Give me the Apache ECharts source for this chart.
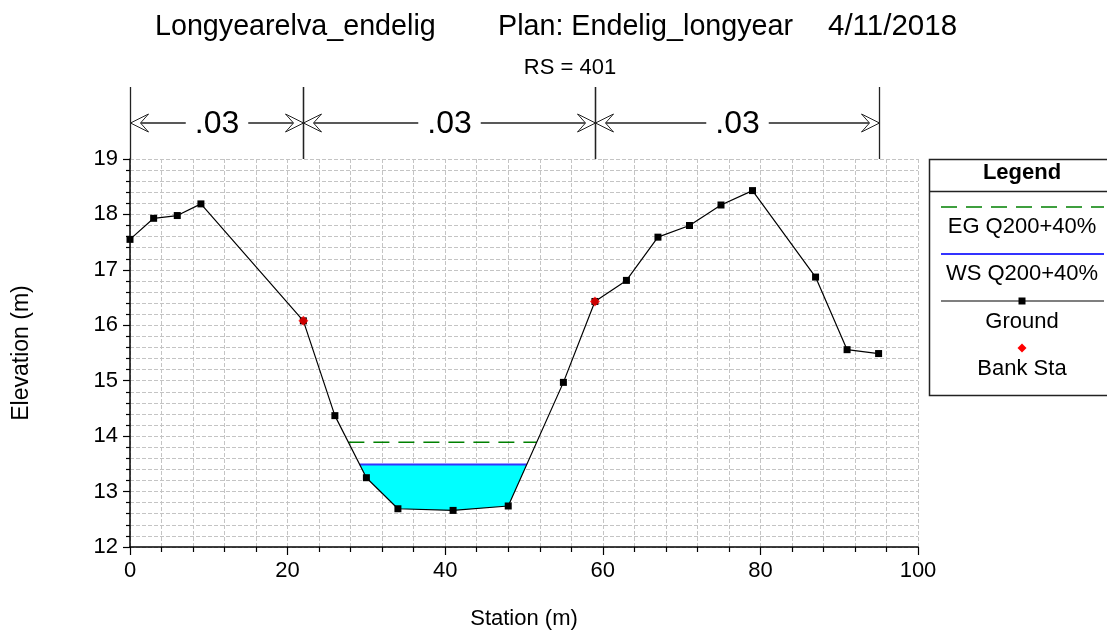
<!DOCTYPE html>
<html><head><meta charset="utf-8">
<script src="https://cdn.jsdelivr.net/npm/echarts@6/dist/echarts.min.js"></script>
<style>html,body{margin:0;padding:0;background:#fff}#c{width:1107px;height:630px}</style>
</head><body><div id="c"></div>
<script>
// ---- data ----
const groundStation = [0, 3, 6, 9, 22, 26, 30, 34, 41, 48, 55, 59, 63, 67, 71, 75, 79, 87, 91, 95];
const groundElev    = [17.55, 17.93, 17.98, 18.19, 16.08, 14.37, 13.25, 12.69, 12.66, 12.74, 14.97, 16.43, 16.81, 17.59, 17.80, 18.17, 18.43, 16.87, 15.56, 15.49];
const bankStations  = [22, 59];
const nBreaks       = [0, 22, 59, 95];
const nValues       = ['.03', '.03', '.03'];
const wsElev = 13.49;   // WS Q200+40%
const egElev = 13.89;   // EG Q200+40%
const xRange = [0, 100], xStep = 20;
const yRange = [12, 19], yStep = 1;
const titleParts = ['Longyearelva_endelig', 'Plan: Endelig_longyear', '4/11/2018'];
const subTitle = 'RS = 401';
const legendItems = ['EG Q200+40%', 'WS Q200+40%', 'Ground', 'Bank Sta'];

const FONT = "'Liberation Sans', Arial, sans-serif";
const ground = groundStation.map((s, i) => [s, groundElev[i]]);
const bank = bankStations.map(s => [s, groundElev[groundStation.indexOf(s)]]);

// where a horizontal water level meets the ground on each side of the thalweg
function crossings(level) {
  let m = 0;
  groundElev.forEach((e, i) => { if (e < groundElev[m]) m = i; });
  let l = m; while (l > 0 && groundElev[l - 1] < level) l--;
  let r = m; while (r < groundElev.length - 1 && groundElev[r + 1] < level) r++;
  const xl = groundStation[l - 1] + (groundStation[l] - groundStation[l - 1]) * (groundElev[l - 1] - level) / (groundElev[l - 1] - groundElev[l]);
  const xr = groundStation[r] + (groundStation[r + 1] - groundStation[r]) * (level - groundElev[r]) / (groundElev[r + 1] - groundElev[r]);
  return { xl, xr, l, r };
}
const ws = crossings(wsElev);
const eg = crossings(egElev);
const waterPoly = [[ws.xl, wsElev]].concat(ground.slice(ws.l, ws.r + 1)).concat([[ws.xr, wsElev]]);

const chart = echarts.init(document.getElementById('c'), null, { renderer: 'canvas' });

const gridDash = { color: '#c4c4c4', width: 1, type: [4, 2] };

const legendX = 929, legendTop = 159;
const lgCx = 1022;
const legendGraphics = [
  { type: 'rect', shape: { x: legendX + 0.5, y: legendTop + 0.5, width: 200, height: 236 }, style: { fill: '#fff', stroke: '#222', lineWidth: 1.5 } },
  { type: 'text', x: lgCx, y: 173, style: { text: 'Legend', font: "bold 22px " + FONT, fill: '#000', align: 'center', verticalAlign: 'middle' } },
  { type: 'line', shape: { x1: legendX, y1: 191.5, x2: 1107, y2: 191.5 }, style: { stroke: '#222', lineWidth: 1.5 } },
  { type: 'line', shape: { x1: 941, y1: 207, x2: 1104, y2: 207 }, style: { stroke: '#008000', lineWidth: 1.5, lineDash: [16, 9] } },
  { type: 'text', x: lgCx, y: 227, style: { text: legendItems[0], font: "22px " + FONT, fill: '#000', align: 'center', verticalAlign: 'middle' } },
  { type: 'line', shape: { x1: 941, y1: 254, x2: 1104, y2: 254 }, style: { stroke: '#3333ff', lineWidth: 2 } },
  { type: 'text', x: lgCx, y: 274, style: { text: legendItems[1], font: "22px " + FONT, fill: '#000', align: 'center', verticalAlign: 'middle' } },
  { type: 'line', shape: { x1: 941, y1: 301, x2: 1104, y2: 301 }, style: { stroke: '#000', lineWidth: 1.2 } },
  { type: 'rect', shape: { x: lgCx - 3.5, y: 297.5, width: 7, height: 7 }, style: { fill: '#000' } },
  { type: 'text', x: lgCx, y: 322, style: { text: legendItems[2], font: "22px " + FONT, fill: '#000', align: 'center', verticalAlign: 'middle' } },
  { type: 'polygon', shape: { points: [[lgCx, 343.5], [lgCx + 4.5, 348], [lgCx, 352.5], [lgCx - 4.5, 348]] }, style: { fill: '#ff0000' } },
  { type: 'text', x: lgCx, y: 369, style: { text: legendItems[3], font: "22px " + FONT, fill: '#000', align: 'center', verticalAlign: 'middle' } }
];

const titleGraphics = [
  { type: 'text', x: 155, y: 27, style: { text: titleParts[0], font: "28.7px " + FONT, fill: '#000', verticalAlign: 'middle' } },
  { type: 'text', x: 498, y: 27, style: { text: titleParts[1], font: "28.7px " + FONT, fill: '#000', verticalAlign: 'middle' } },
  { type: 'text', x: 828, y: 27, style: { text: titleParts[2], font: "29.5px " + FONT, fill: '#000', verticalAlign: 'middle' } },
  { type: 'text', x: 570, y: 68, style: { text: subTitle, font: "22px " + FONT, fill: '#000', align: 'center', verticalAlign: 'middle' } }
];

const option = {
  animation: false,
  backgroundColor: '#fff',
  grid: { left: 130, right: 189, top: 159, bottom: 83, containLabel: false, outerBoundsMode: 'none' },
  xAxis: {
    type: 'value', min: xRange[0], max: xRange[1], interval: xStep,
    name: 'Station (m)', nameLocation: 'middle', nameGap: 61,
    nameTextStyle: { fontFamily: FONT, fontSize: 22, color: '#000' },
    axisLine: { show: true, onZero: false, lineStyle: { color: '#000', width: 1.5 } },
    axisTick: { show: true, length: 8, lineStyle: { color: '#000', width: 1.2 } },
    minorTick: { show: true, splitNumber: 5, length: 5, lineStyle: { color: '#000', width: 1.2 } },
    axisLabel: { fontFamily: FONT, fontSize: 22, color: '#000', margin: 13 },
    splitLine: { show: true, lineStyle: gridDash },
    minorSplitLine: { show: true, lineStyle: gridDash }
  },
  yAxis: {
    type: 'value', min: yRange[0], max: yRange[1], interval: yStep,
    name: 'Elevation (m)', nameLocation: 'middle', nameGap: 97, nameRotate: 90,
    nameTextStyle: { fontFamily: FONT, fontSize: 23, color: '#000' },
    axisLine: { show: true, onZero: false, lineStyle: { color: '#000', width: 1.5 } },
    axisTick: { show: true, length: 7, lineStyle: { color: '#000', width: 1.2 } },
    minorTick: { show: true, splitNumber: 5, length: 4, lineStyle: { color: '#000', width: 1.2 } },
    axisLabel: { fontFamily: FONT, fontSize: 22, color: '#000', margin: 12 },
    splitLine: { show: true, lineStyle: gridDash },
    minorSplitLine: { show: true, lineStyle: gridDash }
  },
  graphic: titleGraphics.concat(legendGraphics),
  series: [
    {
      name: 'water', type: 'custom', coordinateSystem: 'cartesian2d', silent: true, z: 1,
      data: [[ws.xl, wsElev]], encode: { x: 0, y: 1 },
      renderItem: (params, api) => ({
        type: 'polygon',
        shape: { points: waterPoly.map(p => api.coord(p)) },
        style: { fill: '#00ffff' }
      })
    },
    {
      name: legendItems[0], type: 'line', z: 2, symbol: 'none',
      data: [[eg.xl, egElev], [eg.xr, egElev]],
      lineStyle: { color: '#008000', width: 1.5, type: [16, 9] }
    },
    {
      name: legendItems[1], type: 'line', z: 2, symbol: 'none',
      data: [[ws.xl, wsElev], [ws.xr, wsElev]],
      lineStyle: { color: '#3333ff', width: 2 }
    },
    {
      name: legendItems[2], type: 'line', z: 3, symbol: 'rect', symbolSize: 7,
      data: ground,
      lineStyle: { color: '#000', width: 1.2 },
      itemStyle: { color: '#000' }
    },
    {
      name: legendItems[3], type: 'scatter', z: 4, symbol: 'diamond', symbolSize: 10,
      data: bank, itemStyle: { color: '#ff0000' }
    },
    {
      name: 'nValues', type: 'custom', coordinateSystem: 'cartesian2d', silent: true, clip: false, z: 5,
      data: nValues.map((v, i) => [nBreaks[i], nBreaks[i + 1], yRange[1], v]),
      encode: { x: [0, 1], y: 2 },
      renderItem: (params, api) => {
        const p1 = api.coord([api.value(0), api.value(2)]);
        const p2 = api.coord([api.value(1), api.value(2)]);
        const label = nValues[params.dataIndex];
        const top = p1[1] - 72, ay = p1[1] - 36;
        const st = { stroke: '#222', lineWidth: 1.3, fill: null };
        const x1 = Math.round(p1[0]) + 0.5, x2 = Math.round(p2[0]) + 0.5;
        return {
          type: 'group',
          children: [
            { type: 'line', shape: { x1: x1, y1: top, x2: x1, y2: p1[1] }, style: st },
            { type: 'line', shape: { x1: x2, y1: top, x2: x2, y2: p2[1] }, style: st },
            { type: 'line', shape: { x1: x1, y1: ay, x2: x2, y2: ay }, style: st },
            { type: 'polygon', shape: { points: [[x1, ay], [x1 + 18, ay - 9], [x1 + 10, ay], [x1 + 18, ay + 9]] }, style: { stroke: '#222', lineWidth: 1, fill: '#fff' } },
            { type: 'polygon', shape: { points: [[x2, ay], [x2 - 18, ay - 9], [x2 - 10, ay], [x2 - 18, ay + 9]] }, style: { stroke: '#222', lineWidth: 1, fill: '#fff' } },
            { type: 'text', x: (x1 + x2) / 2, y: ay + 1, style: { text: label, font: "32px " + FONT, fill: '#000', align: 'center', verticalAlign: 'middle', backgroundColor: '#fff', padding: [0, 9] } }
          ]
        };
      }
    }
  ]
};
chart.setOption(option);
</script>
</body></html>
